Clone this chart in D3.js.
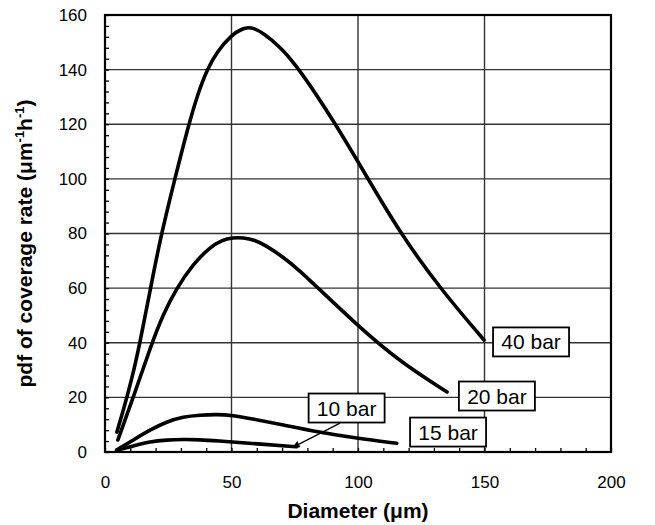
<!DOCTYPE html>
<html>
<head>
<meta charset="utf-8">
<script src="https://cdn.jsdelivr.net/npm/d3@7"></script>
<style>
  body { margin: 0; background: #fff; }
  svg { display: block; font-family: "Liberation Sans", Arial, sans-serif; }
</style>
</head>
<body>
<div class="chart"></div>
<script>
// pdf of coverage rate vs droplet diameter, four pressures

var svgWidth = 655;
var svgHeight = 525;
var margin = { top: 15, right: 44, bottom: 73, left: 105 };
var width = svgWidth - margin.left - margin.right;
var height = svgHeight - margin.top - margin.bottom;

// data
var seriesNames = ["40 bar", "20 bar", "15 bar", "10 bar"];

var d40 = [4.7, 7.5, 10.7, 13.8, 17.4, 21.7, 27.3, 32.8, 36.8, 40.3, 44.2, 50.1, 54.6, 56.5, 58.5, 62.6, 69.2, 77.1, 90.9, 102.4, 116.6, 132.4, 149.8];
var p40 = [7.3, 16.1, 27.1, 39.9, 57.1, 77.6, 98.9, 119.0, 131.5, 139.9, 146.5, 152.9, 155.1, 155.4, 155.3, 153.4, 148.4, 139.9, 120.5, 102.5, 80.2, 59.9, 41.0];

var d20 = [5.1, 11.1, 18.5, 22.9, 28.1, 34.8, 41.5, 46.2, 50.6, 54.5, 59.3, 63.2, 70.4, 77.1, 83.8, 99.6, 116.6, 135.2];
var p20 = [4.4, 19.8, 39.8, 50.2, 59.7, 68.8, 75.0, 77.6, 78.5, 78.5, 77.6, 75.8, 71.4, 66.3, 60.4, 46.5, 33.0, 22.0];

var d15 = [4.6, 11.2, 17.8, 24.4, 30.9, 37.5, 44.1, 50.6, 57.3, 70.5, 83.7, 99.5, 115.3];
var p15 = [0.7, 4.4, 8.1, 11.1, 12.9, 13.5, 13.8, 13.4, 12.3, 9.9, 7.4, 5.0, 3.2];

var d10 = [4.6, 11.2, 17.8, 24.4, 30.9, 37.5, 44.1, 57.3, 75.7];
var p10 = [0.7, 2.2, 3.8, 4.4, 4.6, 4.5, 4.1, 3.2, 1.9];

// label anchor points (data units) and arrow for 10 bar
var labelX = [168.4, 154.9, 135.6, 95.5];
var labelY = [40.3, 20.5, 7.3, 16.1];
var arrowFrom = [92.9, 10.6];
var arrowTo = [74.4, 1.8];

var xTicks = [0, 50, 100, 150, 200];
var yTicks = [0, 20, 40, 60, 80, 100, 120, 140, 160];

var series = [
  { name: seriesNames[0], d: d40, p: p40 },
  { name: seriesNames[1], d: d20, p: p20 },
  { name: seriesNames[2], d: d15, p: p15 },
  { name: seriesNames[3], d: d10, p: p10 }
];

var svg = d3.select(".chart")
  .append("svg")
  .attr("width", svgWidth)
  .attr("height", svgHeight);

var chart = svg.append("g")
  .attr("transform", "translate(" + margin.left + "," + margin.top + ")");

var xScale = d3.scaleLinear().domain([0, 200]).range([0, width]);
var yScale = d3.scaleLinear().domain([0, 160]).range([height, 0]);

// grid lines
chart.append("g")
  .selectAll("line")
  .data(xTicks.slice(1, -1))
  .enter().append("line")
    .attr("x1", function(d) { return xScale(d); })
    .attr("x2", function(d) { return xScale(d); })
    .attr("y1", 0)
    .attr("y2", height)
    .attr("stroke", "#333")
    .attr("stroke-width", 1.4);

chart.append("g")
  .selectAll("line")
  .data(yTicks.slice(1, -1))
  .enter().append("line")
    .attr("y1", function(d) { return yScale(d); })
    .attr("y2", function(d) { return yScale(d); })
    .attr("x1", 0)
    .attr("x2", width)
    .attr("stroke", "#333")
    .attr("stroke-width", 1.4);

// minor ticks, pointing inward
var xMinor = d3.range(0, 201, 10);
var yMinor = d3.range(0, 161, 4);

chart.append("g")
  .attr("transform", "translate(0," + height + ")")
  .call(d3.axisTop(xScale).tickValues(xMinor).tickSize(4).tickFormat(""))
  .call(function(g) { g.select(".domain").remove(); })
  .selectAll("line").attr("stroke", "#000").attr("stroke-width", 1.3);

chart.append("g")
  .call(d3.axisRight(yScale).tickValues(yMinor).tickSize(4).tickFormat(""))
  .call(function(g) { g.select(".domain").remove(); })
  .selectAll("line").attr("stroke", "#000").attr("stroke-width", 1.3);

// tick labels
var bottomAxis = d3.axisBottom(xScale).tickValues(xTicks).tickSize(0).tickPadding(24);
var leftAxis = d3.axisLeft(yScale).tickValues(yTicks).tickSize(0).tickPadding(18);

chart.append("g")
  .attr("transform", "translate(0," + height + ")")
  .call(bottomAxis)
  .call(function(g) { g.select(".domain").remove(); })
  .selectAll("text")
    .attr("font-family", "Liberation Sans, Arial, sans-serif")
    .attr("font-size", 17)
    .attr("fill", "#000");

chart.append("g")
  .call(leftAxis)
  .call(function(g) { g.select(".domain").remove(); })
  .selectAll("text")
    .attr("font-family", "Liberation Sans, Arial, sans-serif")
    .attr("font-size", 17)
    .attr("fill", "#000");

// frame
chart.append("rect")
  .attr("x", 0)
  .attr("y", 0)
  .attr("width", width)
  .attr("height", height)
  .attr("fill", "none")
  .attr("stroke", "#000")
  .attr("stroke-width", 2.2);

// curves
var line = d3.line()
  .x(function(d) { return xScale(d[0]); })
  .y(function(d) { return yScale(d[1]); })
  .curve(d3.curveBasis);

chart.append("g")
  .selectAll("path")
  .data(series)
  .enter().append("path")
    .attr("d", function(s) { return line(d3.zip(s.d, s.p)); })
    .attr("fill", "none")
    .attr("stroke", "#000")
    .attr("stroke-width", 3.6)
    .attr("stroke-linecap", "round")
    .attr("stroke-linejoin", "round");

// arrow for the 10 bar label
svg.append("defs").append("marker")
  .attr("id", "arrow")
  .attr("viewBox", "0 0 10 10")
  .attr("refX", 9)
  .attr("refY", 5)
  .attr("markerWidth", 9)
  .attr("markerHeight", 7)
  .attr("markerUnits", "userSpaceOnUse")
  .attr("orient", "auto")
  .append("path")
    .attr("d", "M0,0L10,5L0,10z")
    .attr("fill", "#000");

chart.append("line")
  .attr("x1", xScale(arrowFrom[0]))
  .attr("y1", yScale(arrowFrom[1]))
  .attr("x2", xScale(arrowTo[0]))
  .attr("y2", yScale(arrowTo[1]))
  .attr("stroke", "#000")
  .attr("stroke-width", 1.3)
  .attr("marker-end", "url(#arrow)");

// labels with boxes
var labels = chart.append("g")
  .selectAll("g")
  .data(series)
  .enter().append("g")
    .attr("transform", function(s, i) {
      return "translate(" + xScale(labelX[i]) + "," + yScale(labelY[i]) + ")";
    });

labels.append("rect")
  .attr("x", -38)
  .attr("y", -14.5)
  .attr("width", 76)
  .attr("height", 29)
  .attr("fill", "#fff")
  .attr("stroke", "#000")
  .attr("stroke-width", 1.8);

labels.append("text")
  .attr("text-anchor", "middle")
  .attr("dy", "0.36em")
  .attr("font-size", 21)
  .attr("fill", "#000")
  .text(function(s) { return s.name; });

// axis titles
svg.append("text")
  .attr("x", margin.left + width / 2)
  .attr("y", 518)
  .attr("text-anchor", "middle")
  .attr("font-size", 21)
  .attr("font-weight", "bold")
  .text("Diameter (\u03bcm)");

var yTitle = svg.append("text")
  .attr("transform", "translate(32," + (margin.top + height / 2 + 10) + ") rotate(-90)")
  .attr("text-anchor", "middle")
  .attr("font-size", 21)
  .attr("font-weight", "bold");
yTitle.append("tspan").text("pdf of coverage rate (\u03bcm");
yTitle.append("tspan").attr("font-size", 13).attr("dy", -8).text("-1");
yTitle.append("tspan").attr("dy", 8).text("h");
yTitle.append("tspan").attr("font-size", 13).attr("dy", -8).text("-1");
yTitle.append("tspan").attr("dy", 8).text(")");
</script>
</body>
</html>
